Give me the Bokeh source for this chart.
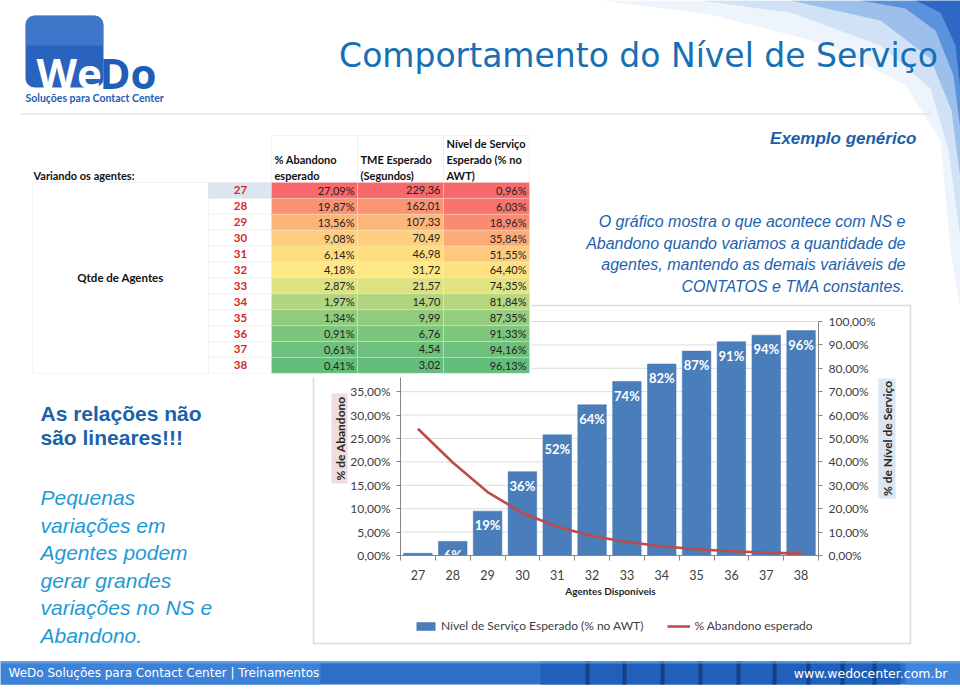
import numpy as np
from bokeh.plotting import figure
from bokeh.models import (Range1d, LinearAxis, FixedTicker, CustomJSTickFormatter,
                          BoxAnnotation, Label, PolyAnnotation, Legend, LegendItem,
                          ColumnDataSource)
from bokeh.core.properties import value
from bokeh.embed import file_html
from bokeh.resources import INLINE

# ---------------- data ----------------
agentes = [27, 28, 29, 30, 31, 32, 33, 34, 35, 36, 37, 38]
abandono = [0.2709, 0.1987, 0.1356, 0.0908, 0.0614, 0.0418, 0.0287, 0.0197, 0.0134, 0.0091, 0.0061, 0.0041]
tme = [229.36, 162.01, 107.33, 70.49, 46.98, 31.72, 21.57, 14.70, 9.99, 6.76, 4.54, 3.02]
nivel_servico = [0.0096, 0.0603, 0.1896, 0.3584, 0.5155, 0.6440, 0.7435, 0.8184, 0.8735, 0.9133, 0.9416, 0.9613]
abandono_ticks = [0.0, 0.05, 0.10, 0.15, 0.20, 0.25, 0.30, 0.35]
ns_ticks = [0.0, 0.1, 0.2, 0.3, 0.4, 0.5, 0.6, 0.7, 0.8, 0.9, 1.0]

title_text = "Comportamento do Nível de Serviço"
legend_ns = "Nível de Serviço Esperado (% no AWT)"
legend_ab = "% Abandono esperado"

# ---------------- layout constants (canvas pixels, y from top) ----------------
W, H = 960, 690
FL, FR, FT, FB = 400, 818, 321, 555      # chart plot area
X0, X1 = 26.5, 38.5                       # agent axis extent
AB_MAX, NS_MAX = 0.5, 1.0                 # value at top of plot area

ppx = (FR - FL) / (X1 - X0)
pns = (FB - FT) / NS_MAX
pab = (FB - FT) / AB_MAX

p = figure(width=W, height=H, output_backend="svg", toolbar_location=None,
           x_range=Range1d(0, W), y_range=Range1d(H, 0),
           x_axis_type=None, y_axis_type=None,
           min_border_left=0, min_border_right=0, min_border_top=0, min_border_bottom=0)
p.background_fill_color = "white"
p.border_fill_color = "white"
p.outline_line_color = None
p.grid.visible = False
p.extra_x_ranges = {"ag": Range1d(X0 - FL / ppx, X1 + (W - FR) / ppx)}
p.extra_y_ranges = {"ns": Range1d(-(H - FB) / pns, -(H - FB) / pns + H / pns),
                    "ab": Range1d(-(H - FB) / pab, -(H - FB) / pab + H / pab)}

pct_fmt = CustomJSTickFormatter(code="return (tick*100).toFixed(2).replace('.', ',') + '%';")
AX_COL = "#868686"
TXT_COL = "#404040"
CH_FONT = "Lato"


def style_axis(ax, size="12px"):
    ax.axis_line_color = AX_COL
    ax.major_tick_line_color = AX_COL
    ax.major_tick_out = 4
    ax.major_tick_in = 0
    ax.minor_tick_line_color = None
    ax.major_label_standoff = 6
    ax.major_label_text_font = CH_FONT
    ax.major_label_text_font_size = size
    ax.major_label_text_color = TXT_COL


def box(x0, y0, x1, y1, fill, line=None, lw=1, alpha=1.0, level="annotation", radius=0):
    p.add_layout(BoxAnnotation(left=x0, right=x1, top=y0, bottom=y1,
                               fill_color=fill, fill_alpha=alpha if fill else 0,
                               line_color=line, line_width=lw, level=level,
                               border_radius=radius))


def poly(pts, fill, alpha=1.0):
    p.add_layout(PolyAnnotation(xs=[x for x, _ in pts], ys=[y for _, y in pts],
                                fill_color=fill, fill_alpha=alpha, line_color=None))


def lab(x, y, text, size, color, font="Liberation Sans", style="normal",
        align="left", baseline="middle", angle=0.0, level="annotation"):
    p.add_layout(Label(x=x, y=y, text=text,
                       text_font=font, text_font_size=f"{size}px", text_color=color,
                       text_font_style=style, text_align=align, text_baseline=baseline,
                       angle=angle, level=level))


# chart box and axis-title backgrounds (underlay)
box(313, 305, 910, 643, None, line="#8C8C8C", lw=1.5, level="underlay")
box(331, 393, 347, 483, "#F2DCDB", level="underlay")
box(878, 378, 895, 498, "#DCE6F2", level="underlay")

# axes at fixed locations
ly = LinearAxis(y_range_name="ab", ticker=FixedTicker(ticks=abandono_ticks), formatter=pct_fmt,
                fixed_location=FL, bounds=(0, AB_MAX))
style_axis(ly)
p.add_layout(ly, "left")

ry = LinearAxis(y_range_name="ns", ticker=FixedTicker(ticks=ns_ticks), formatter=pct_fmt,
                fixed_location=FR, bounds=(0, NS_MAX))
style_axis(ry)
p.add_layout(ry, "right")

bx = LinearAxis(x_range_name="ag", y_range_name="ns", fixed_location=0, bounds=(X0, X1),
                ticker=FixedTicker(ticks=agentes,
                                   minor_ticks=[a - 0.5 for a in agentes] + [agentes[-1] + 0.5]))
style_axis(bx, "12.5px")
bx.major_tick_line_color = None
bx.major_tick_out = 0
bx.minor_tick_line_color = AX_COL
bx.minor_tick_out = 5
bx.minor_tick_in = 0
bx.major_label_standoff = 9
p.add_layout(bx, "below")

# horizontal grid lines at the right-axis ticks
g = p.segment(x0=[FL] * (len(ns_ticks) - 1), x1=[FR] * (len(ns_ticks) - 1),
              y0=ns_ticks[1:], y1=ns_ticks[1:], y_range_name="ns",
              line_color="#DCDCDC", line_width=1)
g.level = "underlay"

src = ColumnDataSource(dict(agentes=agentes, ns=nivel_servico, ab=abandono))
bars = p.vbar(x="agentes", top="ns", bottom=0, width=0.82, source=src,
              x_range_name="ag", y_range_name="ns",
              fill_color="#4A7EBB", line_color="#4375B0", line_width=0.5)
line = p.line(x="agentes", y="ab", source=src, x_range_name="ag", y_range_name="ab",
              line_color="#BE4B48", line_width=2.6)

lab_src = ColumnDataSource(dict(x=agentes[1:], y=nivel_servico[1:],
                                t=[f"{round(v * 100)}%" for v in nivel_servico[1:]]))
p.text(x="x", y="y", text="t", source=lab_src, x_range_name="ag", y_range_name="ns", y_offset=14,
       text_align="center", text_baseline="middle", text_color="white",
       text_font=value(CH_FONT), text_font_style="bold", text_font_size="13px")

legend = Legend(items=[LegendItem(label=legend_ns, renderers=[bars]),
                       LegendItem(label=legend_ab, renderers=[line])],
                orientation="horizontal", location=(414, H - 633))
legend.padding = 0
legend.margin = 0
legend.border_line_color = None
legend.background_fill_alpha = 0
legend.label_text_font = CH_FONT
legend.label_text_font_size = "12px"
legend.label_text_color = TXT_COL
legend.glyph_width = 23
legend.glyph_height = 10
legend.label_standoff = 4
legend.spacing = 24
p.add_layout(legend)

# axis titles
lab((FL + FR) / 2 + 1, 590, "Agentes Disponíveis", 10, "#262626", font=CH_FONT, style="bold", align="center")
lab(339.5, 438, "% de Abandono", 12, "#262626", font=CH_FONT, style="bold",
    align="center", angle=np.pi / 2)
lab(886.5, 438, "% de Nível de Serviço", 12, "#262626", font=CH_FONT, style="bold",
    align="center", angle=np.pi / 2)

# ---------------- slide decoration ----------------
poly([(600, 0), (960, 0), (960, 310), (950, 250), (940, 140), (905, 85), (830, 45), (710, 14)], "#EEF4FB")
poly([(700, 0), (960, 0), (960, 240), (948, 150), (930, 88), (880, 45), (790, 12)], "#D2E2F6")
poly([(790, 0), (960, 0), (960, 180), (951, 110), (930, 58), (880, 20)], "#9DBFEB")
poly([(860, 0), (960, 0), (960, 130), (953, 75), (935, 30), (905, 8)], "#5C91DC")
poly([(915, 0), (960, 0), (960, 90), (955, 45), (940, 12)], "#2F68C4")

box(20, 113, 930, 114, "#D9D9D9")

# logo
box(25, 15, 103, 87, "#2A63BE", radius=9)
box(25, 15, 103, 45, "#5A8EDA", alpha=0.45, radius=(9, 9, 0, 0))
lab(36, 72, "We", 42, "white", font="Open Sans", style="bold")
lab(99, 72, "Do", 42, "#1F5DB6", font="Open Sans", style="bold")
lab(25, 97, "Soluções para Contact Center", 10.5, "#1F5DB6", font="Lato", style="bold")

# title
lab(638, 55, title_text, 33, "#176FB6", font="DejaVu Sans", align="center")

# right texts
lab(916, 138, "Exemplo genérico", 17, "#1D5EA8", style="bold italic", align="right")
para = ["O gráfico mostra o que acontece com NS e",
        "Abandono quando variamos a quantidade de",
        "agentes, mantendo as demais variáveis de",
        "CONTATOS e TMA constantes."]
for i, t in enumerate(para):
    lab(905, 221 + i * 21.7, t, 16, "#1D62AD", style="italic", align="right")

# left texts
lab(40, 413, "As relações não", 21, "#1B63A8", style="bold")
lab(40, 437, "são lineares!!!", 21, "#1B63A8", style="bold")
left_it = ["Pequenas", "variações em", "Agentes podem", "gerar grandes",
           "variações no NS e", "Abandono."]
for i, t in enumerate(left_it):
    lab(40, 497 + i * 27.6, t, 21, "#1E9AD6", style="italic")


# ---------------- table ----------------
def excel3(vals, reverse=False):
    s = np.array(vals, dtype=float)
    lo, hi, med = s.min(), s.max(), float(np.median(s))
    green = np.array([0x63, 0xBE, 0x7B]); yellow = np.array([0xFF, 0xEB, 0x84]); red = np.array([0xF8, 0x69, 0x6B])
    c_lo, c_hi = (red, green) if reverse else (green, red)
    out = []
    for v in vals:
        if v <= med:
            t = (v - lo) / (med - lo); c = c_lo + (yellow - c_lo) * t
        else:
            t = (v - med) / (hi - med); c = yellow + (c_hi - yellow) * t
        out.append("#%02X%02X%02X" % tuple(int(round(x)) for x in c))
    return out


def fmt2(v):
    return f"{v:.2f}".replace(".", ",")


box(28, 128, 531, 377, "white")
TF = "Lato"
lab(33, 175, "Variando os agentes:", 11, "#111111", font=TF, style="bold")
cols = [(208, 271), (271, 357), (357, 443), (443, 529)]
for (c0, c1) in cols[1:]:
    box(c0, 135, c1, 182, "white", line="#D6D6D6")
lab(274, 159, "% Abandono", 11, "#111111", font=TF, style="bold")
lab(274, 175, "esperado", 11, "#111111", font=TF, style="bold")
lab(360, 159, "TME Esperado", 11, "#111111", font=TF, style="bold")
lab(360, 175, "(Segundos)", 11, "#111111", font=TF, style="bold")
lab(446, 143, "Nível de Serviço", 11, "#111111", font=TF, style="bold")
lab(446, 159, "Esperado (% no", 11, "#111111", font=TF, style="bold")
lab(446, 175, "AWT)", 11, "#111111", font=TF, style="bold")

ROW0, RH = 182, 15.9
box(32, ROW0, 208, ROW0 + 12 * RH, "white", line="#D6D6D6")
lab(120, ROW0 + 6 * RH, "Qtde de Agentes", 11.5, "#111111", font=TF, style="bold", align="center")

c_ab = excel3(abandono)
c_tme = excel3(tme)
c_ns = excel3(nivel_servico, reverse=True)
for i in range(len(agentes)):
    y0, y1 = ROW0 + i * RH, ROW0 + (i + 1) * RH
    ym = (y0 + y1) / 2
    box(208, y0, 271, y1, "#DCE6F1" if i == 0 else "white", line="#E2E2E2")
    box(271, y0, 357, y1, c_ab[i], line="#EEEEEE")
    box(357, y0, 443, y1, c_tme[i], line="#EEEEEE")
    box(443, y0, 529, y1, c_ns[i], line="#EEEEEE")
    lab(240, ym, str(agentes[i]), 11.5, "#D42A2A", font=TF, style="bold", align="center")
    lab(354, ym, fmt2(abandono[i] * 100) + "%", 11, "#222222", font=TF, align="right")
    lab(440, ym, fmt2(tme[i]), 11, "#222222", font=TF, align="right")
    lab(526, ym, fmt2(nivel_servico[i] * 100) + "%", 11, "#222222", font=TF, align="right")

# ---------------- footer ----------------
box(0, 661, 960, 684, "#2E6FC8")
box(0, 661, 320, 684, "#3C82D8")
box(540, 661, 900, 684, "#2160BA")
for sx in [585, 622, 660, 698, 736, 772, 806, 840, 872]:
    box(sx, 661, sx + 4, 684, "#173F85")
box(905, 661, 960, 684, "#3F86DA")
box(0, 661, 960, 663, "#6FA3E6", alpha=0.7)
lab(8, 672.5, "WeDo Soluções para Contact Center | Treinamentos", 12, "white", font="DejaVu Sans")
lab(947, 672.5, "www.wedocenter.com.br", 12.5, "white", font="DejaVu Sans", align="right")

open("out.html", "w").write(file_html(p, INLINE))
